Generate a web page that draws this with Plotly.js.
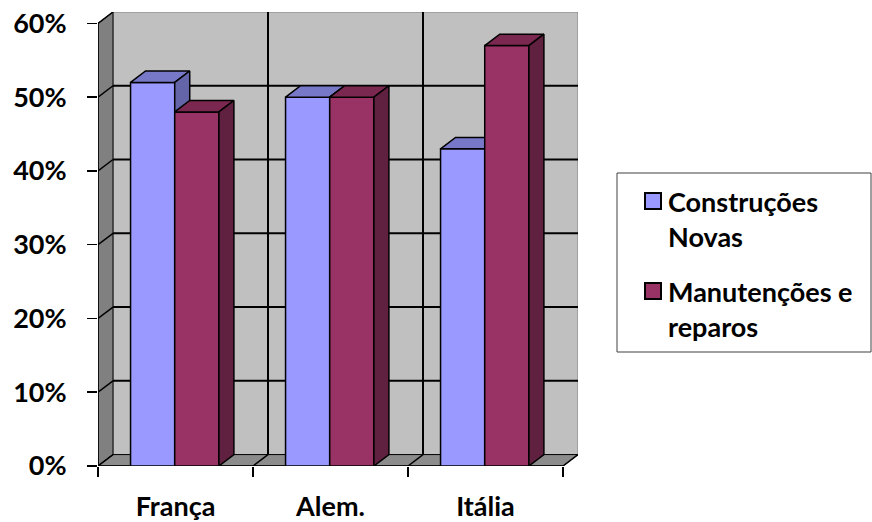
<!DOCTYPE html>
<html>
<head>
<meta charset="utf-8">
<script src="https://cdn.plot.ly/plotly-3.0.1.min.js"></script>
<style>html,body{margin:0;padding:0;background:#fff;}#chart{width:872px;height:522px;}</style>
</head>
<body>
<div id="chart"></div>
<script>
// ---- data ----
const categories = ['França', 'Alem.', 'Itália'];
const seriesLabels = ['Construções<br>Novas', 'Manutenções e<br>reparos'];
const construcoesNovas = [52, 50, 43];
const manutencoesReparos = [48, 50, 57];
const yTickVals = [0, 10, 20, 30, 40, 50, 60];
const yTickText = ['0%', '10%', '20%', '30%', '40%', '50%', '60%'];

// ---- style ----
const series = [construcoesNovas, manutencoesReparos];
const faceColors = [
  {front: '#9999FF', top: '#7878C8', side: '#6464A8'},
  {front: '#993366', top: '#7A2850', side: '#602040'}
];
const DX = 0.0968, DY = 1.55;       // depth offset in axis units
const BAR_START = 0.21, BAR_W = 0.285;
const YMAX = 60;
const NCAT = categories.length;
const edge = {color: '#000', width: 1.5};

const traces = [];
for (let i = 0; i < NCAT; i++) {
  series.forEach((vals, s) => {
    const v = vals[i];
    const x0 = i + BAR_START + s * BAR_W, x1 = x0 + BAR_W;
    const c = faceColors[s];
    const poly = (xs, ys, col) => traces.push({
      type: 'scatter', mode: 'lines', x: xs, y: ys, fill: 'toself',
      fillcolor: col, line: edge, hoverinfo: 'skip', showlegend: false
    });
    poly([x0, x1, x1, x0, x0], [0, 0, v, v, 0], c.front);
    poly([x0, x1, x1 + DX, x0 + DX, x0], [v, v, v + DY, v + DY, v], c.top);
    poly([x1, x1 + DX, x1 + DX, x1, x1], [0, DY, v + DY, v, 0], c.side);
  });
}

// ---- walls (shapes) ----
const shapes = [];
const path = (pts) => 'M' + pts.map(p => p[0] + ',' + p[1]).join('L') + 'Z';
shapes.push({type: 'rect', xref: 'x', yref: 'y', x0: DX, x1: NCAT + DX, y0: DY, y1: YMAX + DY,
  fillcolor: '#C0C0C0', line: {color: '#808080', width: 1}, layer: 'below'});
shapes.push({type: 'path', xref: 'x', yref: 'y', path: path([[0, 0], [0, YMAX], [DX, YMAX + DY], [DX, DY]]),
  fillcolor: '#808080', line: {color: '#000', width: 1}, layer: 'below'});
shapes.push({type: 'path', xref: 'x', yref: 'y', path: path([[0, 0], [NCAT, 0], [NCAT + DX, DY], [DX, DY]]),
  fillcolor: '#8C8C8C', line: {color: '#000', width: 1}, layer: 'below'});
yTickVals.forEach(v => {
  if (v > 0 && v < YMAX) {
    shapes.push({type: 'line', xref: 'x', yref: 'y', x0: DX, x1: NCAT + DX, y0: v + DY, y1: v + DY,
      line: {color: '#000', width: 2}, layer: 'below'});
  }
  shapes.push({type: 'line', xref: 'x', yref: 'y', x0: 0, x1: DX, y0: v, y1: v + DY,
    line: {color: '#000', width: 1.5}, layer: 'below'});
});
for (let k = 1; k <= NCAT; k++) {
  if (k < NCAT) {
    shapes.push({type: 'line', xref: 'x', yref: 'y', x0: k + DX, x1: k + DX, y0: DY, y1: YMAX + DY,
      line: {color: '#000', width: 2}, layer: 'below'});
  }
  shapes.push({type: 'line', xref: 'x', yref: 'y', x0: k, x1: k + DX, y0: 0, y1: DY,
    line: {color: '#000', width: 1.5}, layer: 'below'});
}
shapes.push({type: 'line', xref: 'x', yref: 'y', x0: 0, x1: NCAT, y0: 0, y1: 0, line: {color: '#000', width: 1.5}, layer: 'below'});
shapes.push({type: 'line', xref: 'x', yref: 'y', x0: 0, x1: 0, y0: 0, y1: YMAX, line: {color: '#000', width: 1.5}, layer: 'below'});

// ---- manual legend ----
const font = {family: 'Lato, "Open Sans", sans-serif', size: 27, color: '#000', weight: 'bold'};
const px = (p) => (p - 98) / 480;
const py = (p) => (466 - p) / 454;
shapes.push({type: 'rect', xref: 'paper', yref: 'paper', x0: px(617), x1: px(871), y0: py(173), y1: py(352),
  fillcolor: '#fff', line: {color: '#404040', width: 1}});
const annotations = [];
const legendTops = [192, 282];
seriesLabels.forEach((lab, s) => {
  const t = legendTops[s];
  shapes.push({type: 'rect', xref: 'paper', yref: 'paper', x0: px(645), x1: px(661), y0: py(t + 1), y1: py(t + 17),
    fillcolor: faceColors[s].front, line: {color: '#000', width: 2}});
  annotations.push({xref: 'paper', yref: 'paper', x: px(666), y: py(t - 9), xanchor: 'left', yanchor: 'top',
    align: 'left', text: lab, showarrow: false, font: font});
});

const layout = {
  width: 872, height: 522,
  margin: {l: 98, r: 294, t: 12, b: 56},
  paper_bgcolor: '#fff', plot_bgcolor: 'rgba(0,0,0,0)',
  showlegend: false,
  font: font,
  xaxis: {
    range: [0, NCAT + DX], showgrid: false, zeroline: false, showline: false, fixedrange: true,
    tickmode: 'array', tickvals: categories.map((_, i) => i + 0.5), ticktext: categories,
    ticks: '', ticklabelstandoff: 22, tickfont: font,
    minor: {tickmode: 'array', tickvals: [0, 1, 2, 3], ticks: 'outside', ticklen: 10, tickwidth: 1.5, tickcolor: '#000', showgrid: false}
  },
  yaxis: {
    range: [0, YMAX + DY], showgrid: false, zeroline: false, showline: false, fixedrange: true,
    tickmode: 'array', tickvals: yTickVals, ticktext: yTickText,
    ticks: 'outside', ticklen: 10, tickwidth: 1.5, tickcolor: '#000', ticklabelstandoff: 15, tickfont: font
  },
  shapes: shapes,
  annotations: annotations
};

Plotly.newPlot('chart', traces, layout, {displayModeBar: false, staticPlot: true});
</script>
</body>
</html>
